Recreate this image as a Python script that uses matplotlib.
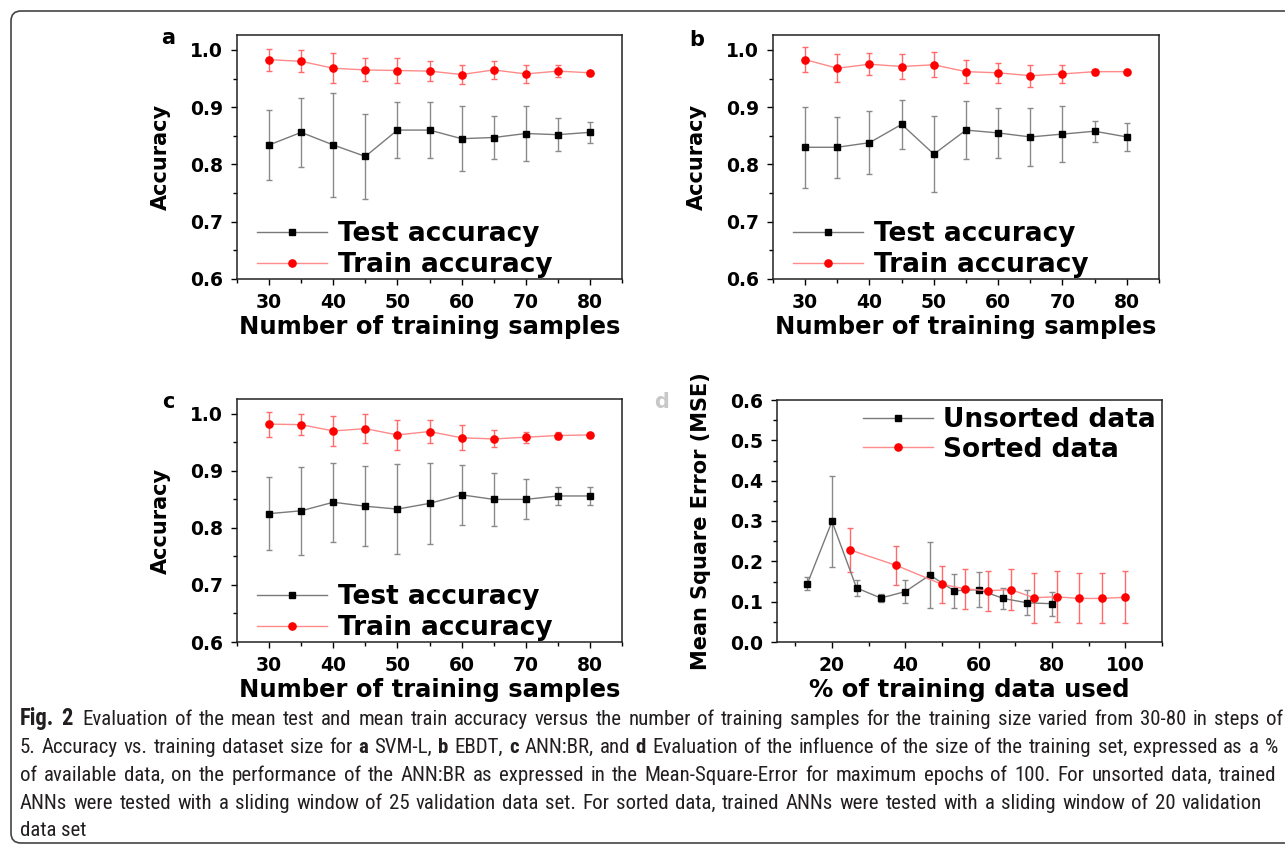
import numpy as np
import matplotlib
matplotlib.use('Agg')
import matplotlib.pyplot as plt
from matplotlib import font_manager
from matplotlib.lines import Line2D
from matplotlib.patches import FancyBboxPatch
from matplotlib.transforms import IdentityTransform

# ---- data ----
n_samples = [30, 35, 40, 45, 50, 55, 60, 65, 70, 75, 80]

a_test = [0.834, 0.856, 0.834, 0.814, 0.860, 0.860, 0.845, 0.847, 0.854, 0.852, 0.856]
a_test_err = [0.061, 0.060, 0.090, 0.074, 0.049, 0.049, 0.057, 0.037, 0.048, 0.029, 0.018]
a_train = [0.983, 0.980, 0.968, 0.965, 0.964, 0.963, 0.957, 0.965, 0.958, 0.963, 0.960]
a_train_err = [0.019, 0.019, 0.026, 0.020, 0.022, 0.017, 0.016, 0.016, 0.015, 0.010, 0.004]

b_test = [0.830, 0.830, 0.838, 0.870, 0.818, 0.860, 0.855, 0.848, 0.853, 0.858, 0.848]
b_test_err = [0.071, 0.053, 0.055, 0.043, 0.066, 0.051, 0.044, 0.051, 0.049, 0.018, 0.025]
b_train = [0.983, 0.968, 0.975, 0.971, 0.974, 0.962, 0.960, 0.955, 0.958, 0.962, 0.962]
b_train_err = [0.022, 0.024, 0.019, 0.022, 0.022, 0.020, 0.017, 0.019, 0.015, 0.005, 0.003]

c_test = [0.825, 0.830, 0.845, 0.838, 0.833, 0.843, 0.858, 0.850, 0.850, 0.856, 0.856]
c_test_err = [0.064, 0.077, 0.069, 0.070, 0.079, 0.071, 0.053, 0.047, 0.035, 0.015, 0.015]
c_train = [0.982, 0.981, 0.970, 0.974, 0.963, 0.969, 0.958, 0.956, 0.959, 0.962, 0.963]
c_train_err = [0.022, 0.018, 0.026, 0.025, 0.026, 0.020, 0.022, 0.015, 0.010, 0.006, 0.003]

unsorted_pct = [13.3, 20.0, 26.7, 33.3, 40.0, 46.7, 53.3, 60.0, 66.7, 73.3, 80.0]
unsorted_mse = [0.145, 0.299, 0.134, 0.109, 0.125, 0.166, 0.127, 0.130, 0.108, 0.097, 0.095]
unsorted_err = [0.017, 0.112, 0.019, 0.010, 0.029, 0.082, 0.042, 0.043, 0.025, 0.031, 0.030]
sorted_pct = [25.0, 37.5, 50.0, 56.25, 62.5, 68.75, 75.0, 81.25, 87.5, 93.75, 100.0]
sorted_mse = [0.228, 0.190, 0.143, 0.132, 0.127, 0.130, 0.110, 0.112, 0.108, 0.108, 0.111]
sorted_err = [0.054, 0.049, 0.046, 0.050, 0.049, 0.050, 0.062, 0.063, 0.062, 0.062, 0.065]

plt.rcParams['font.family'] = ['DejaVu Sans']
plt.rcParams['font.weight'] = 'bold'

W, H = 1285, 846
fig = plt.figure(figsize=(W / 100, H / 100), dpi=100)

GRAY_LINE, GRAY_ERR = '#7a7a7a', '#8a8a8a'
RED_LINE, RED_ERR = '#ff8a8a', '#ff6a6a'


def px_axes(left, top, right, bottom):
    return fig.add_axes([left / W, (H - bottom) / H, (right - left) / W, (bottom - top) / H])


def style_axes(ax):
    for s in ax.spines.values():
        s.set_color('#222222')
        s.set_linewidth(1.1)
    ax.tick_params(which='both', direction='out', top=False, right=False, labelsize=13.5, pad=6)
    ax.tick_params(which='major', length=4, width=1)
    ax.tick_params(which='minor', length=3, width=1)
    for lab in ax.get_xticklabels() + ax.get_yticklabels():
        lab.set_fontweight('bold')


def handles(lab1, lab2):
    h1 = Line2D([], [], color=GRAY_LINE, lw=1, marker='s', ms=4.8, mfc='black', mec='black', label=lab1)
    h2 = Line2D([], [], color=RED_LINE, lw=1, marker='o', ms=5.2, mfc='red', mec='red', label=lab2)
    return [h1, h2]


def two_series(ax, x1, y1, e1, x2, y2, e2):
    ax.errorbar(x1, y1, yerr=e1, color=GRAY_LINE, lw=1, marker='s', ms=4.8,
                mfc='black', mec='black', ecolor=GRAY_ERR, elinewidth=1, capsize=2.5)
    ax.errorbar(x2, y2, yerr=e2, color=RED_LINE, lw=1, marker='o', ms=5.2,
                mfc='red', mec='red', ecolor=RED_ERR, elinewidth=1, capsize=2.5)


def acc_panel(ax, test, test_err, train, train_err):
    two_series(ax, n_samples, test, test_err, n_samples, train, train_err)
    ax.set_xlim(25, 85)
    ax.set_ylim(0.6, 1.026)
    ax.set_xticks([30, 40, 50, 60, 70, 80])
    ax.set_xticks(np.arange(25, 86, 5), minor=True)
    ax.set_yticks([0.6, 0.7, 0.8, 0.9, 1.0])
    ax.set_yticks(np.arange(0.6, 1.01, 0.05), minor=True)
    ax.set_yticklabels(['0.6', '0.7', '0.8', '0.9', '1.0'])
    ax.set_xlabel('Number of training samples', fontsize=17.5, fontweight='bold', labelpad=2)
    ax.set_ylabel('Accuracy', fontsize=15, fontweight='bold', labelpad=14)
    ax.legend(handles=handles('Test accuracy', 'Train accuracy'), loc='lower left',
              bbox_to_anchor=(0.052, 0.004), frameon=False,
              handlelength=2.65, handletextpad=0.4, labelspacing=0.2, borderpad=0,
              borderaxespad=0, prop={'weight': 'bold', 'size': 19})
    style_axes(ax)


ax_a = px_axes(237, 35, 622, 279)
acc_panel(ax_a, a_test, a_test_err, a_train, a_train_err)
ax_b = px_axes(773, 35, 1159, 279)
acc_panel(ax_b, b_test, b_test_err, b_train, b_train_err)
ax_c = px_axes(237, 399, 622, 642)
acc_panel(ax_c, c_test, c_test_err, c_train, c_train_err)

ax_d = px_axes(777, 400, 1162, 642)
two_series(ax_d, unsorted_pct, unsorted_mse, unsorted_err, sorted_pct, sorted_mse, sorted_err)
ax_d.set_xlim(5, 110)
ax_d.set_ylim(0, 0.6)
ax_d.set_xticks([20, 40, 60, 80, 100])
ax_d.set_xticks(np.arange(10, 111, 10), minor=True)
ax_d.set_yticks(np.arange(0, 0.61, 0.1))
ax_d.set_yticks(np.arange(0, 0.61, 0.05), minor=True)
ax_d.set_yticklabels(['0.0', '0.1', '0.2', '0.3', '0.4', '0.5', '0.6'])
ax_d.set_xlabel('% of training data used', fontsize=17.5, fontweight='bold', labelpad=2)
ax_d.set_ylabel('Mean Square Error (MSE)', fontsize=15, fontweight='bold', labelpad=14)
ax_d.legend(handles=handles('Unsorted data', 'Sorted data'), loc='upper left',
            bbox_to_anchor=(0.223, 0.972), frameon=False,
            handlelength=2.65, handletextpad=0.4, labelspacing=0.15, borderpad=0,
            borderaxespad=0, prop={'weight': 'bold', 'size': 19})
style_axes(ax_d)

# panel letters
for lx, ly, letter, col in [(168, 38, 'a', 'black'), (697, 40, 'b', 'black'),
                            (168, 402, 'c', 'black'), (662, 402, 'd', '#c8c8c8')]:
    fig.text(lx / W, 1 - ly / H, letter, fontsize=15, fontweight='bold', color=col,
             ha='center', va='center')

# border round the figure
border = FancyBboxPatch((11, 3), W + 20, H - 14, boxstyle='round,pad=0,rounding_size=10',
                        transform=IdentityTransform(), fill=False, ec='#444444', lw=1.2)
fig.patches.append(border)

# ---- caption ----
cap_font = 'DejaVu Sans'
for cand in ['Liberation Sans Narrow', 'Roboto Condensed', 'Open Sans Condensed', 'DejaVu Sans Condensed']:
    try:
        font_manager.findfont(font_manager.FontProperties(family=cand), fallback_to_default=False)
        cap_font = cand
        break
    except Exception:
        pass
cap_fam = [cap_font, 'DejaVu Sans']

caption_lines = [
    ([('Fig. 2', True), ('Evaluation of the mean test and mean train accuracy versus the number of training samples '
                         'for the training size varied from 30-80 in steps of', False)], 1279),
    ([('5. Accuracy vs. training dataset size for', False), ('a', True), ('SVM-L,', False), ('b', True),
      ('EBDT,', False), ('c', True), ('ANN:BR, and', False), ('d', True),
      ('Evaluation of the influence of the size of the training set, expressed as a %', False)], 1278),
    ([('of available data, on the performance of the ANN:BR as expressed in the Mean-Square-Error for '
       'maximum epochs of 100. For unsorted data, trained', False)], 1276),
    ([('ANNs were tested with a sliding window of 25 validation data set. For sorted data, trained ANNs '
       'were tested with a sliding window of 20 validation', False)], 1262),
    ([('data set', False)], None),
]
baselines = [725, 753, 781, 809, 836]

renderer = fig.canvas.get_renderer()

# pick caption size so the first line fills the width with ordinary spacing
probe_txt = caption_lines[0][0][1][0]
probe = fig.text(0, 0, probe_txt, fontsize=12, family=cap_fam, fontweight='normal')
w12 = probe.get_window_extent(renderer).width
probe.remove()
cap_size = 12 * 1160 / w12


def space_width(size):
    sp = fig.text(0, 0, 'a b', fontsize=size, family=cap_fam, fontweight='normal')
    sp2 = fig.text(0, 0, 'ab', fontsize=size, family=cap_fam, fontweight='normal')
    s = sp.get_window_extent(renderer).width - sp2.get_window_extent(renderer).width
    sp.remove()
    sp2.remove()
    return s


space = space_width(cap_size)
for (pieces, right_edge), yb in zip(caption_lines, baselines):
    words = []
    for i, (txt, bold) in enumerate(pieces):
        for w in txt.split():
            words.append((w, bold, txt == 'Fig. 2'))
    arts = []
    for w, bold, is_fig in words:
        t = fig.text(0, 1 - yb / H, w, fontsize=cap_size * (1.08 if is_fig else 1.0), family=cap_fam,
                     fontweight='bold' if bold else 'normal', color='#231f20', va='baseline')
        arts.append(t)
    widths = [a.get_window_extent(renderer).width for a in arts]
    x0 = 20
    if right_edge is not None and len(arts) > 1:
        gap = (right_edge - x0 - sum(widths)) / (len(arts) - 1)
    else:
        gap = space
    x = x0
    for k, (a, wd) in enumerate(zip(arts, widths)):
        a.set_x(x / W)
        x += wd + gap
        if k == 1 and words[0][2]:
            x += gap * 0.6

fig.savefig('out.png', dpi=100)
